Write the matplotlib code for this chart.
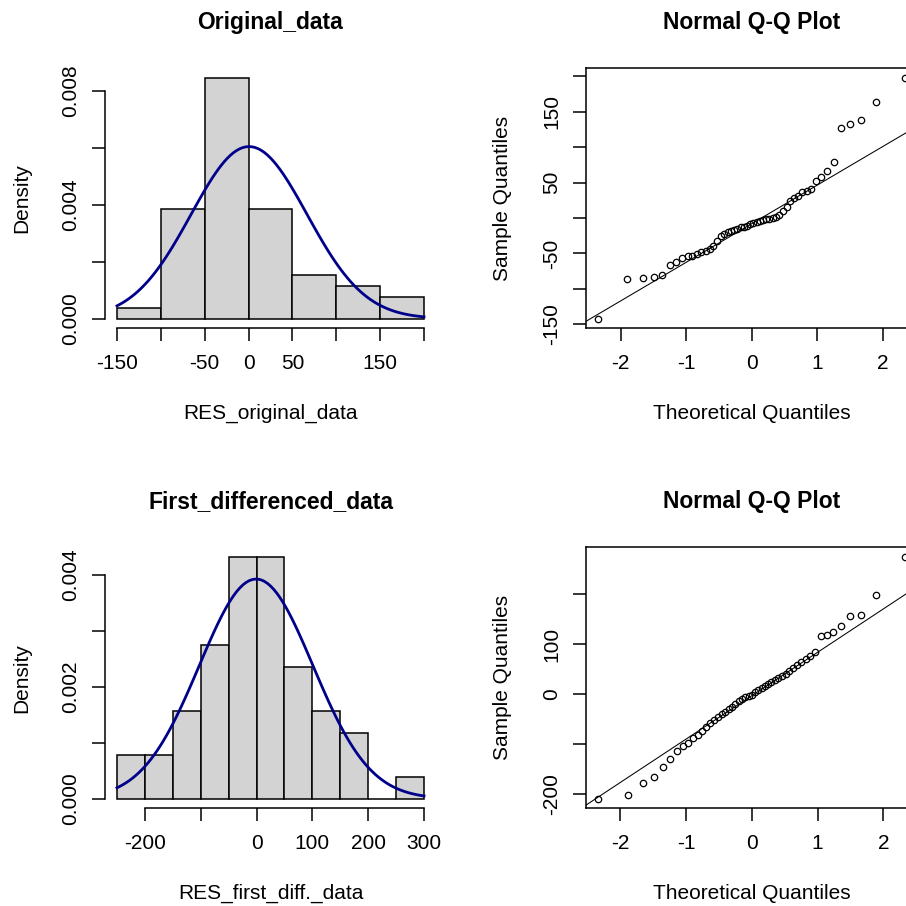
import numpy as np
import matplotlib
matplotlib.use("Agg")
import matplotlib.pyplot as plt
from statistics import NormalDist

plt.rcParams['font.family'] = ['Liberation Sans', 'DejaVu Sans']

# Model residuals (sorted), original series
res_original = np.array([
    -142, -86, -84, -83, -80, -66, -62, -57, -54, -53, -51,
    -48.5, -47, -44, -39, -32, -25, -22, -20, -19, -17, -16, -13.3,
    -12, -11, -8.5, -7, -5, -4, -3, -2, -1.5, -0.5,
    0.9, 4.7, 9.4, 15, 24.5, 27.8, 31.6, 36.3, 37.7, 41,
    52.8, 57.5, 67, 78.8, 126.5, 133.1, 137.8, 163.8, 198,
])

# Model residuals (sorted), first differenced series
res_first_diff = np.array([
    -210, -202, -178, -167, -147, -130, -115, -105,
    -98, -88, -83, -74, -66, -58, -52,
    -45, -40, -35, -30, -25, -19, -14, -9, -5, -3, -1,
    4, 8, 12, 16, 20, 24, 28, 33, 37, 41, 46,
    53, 58, 64, 70, 77, 84, 116.6, 118.6, 125, 136.6,
    156, 158, 199, 275,
])

breaks_original = [-150, -100, -50, 0, 50, 100, 150, 200]
breaks_first_diff = [-250, -200, -150, -100, -50, 0, 50, 100, 150, 200, 250, 300]

hist1_xticks = [-150, -100, -50, 0, 50, 100, 150, 200]
hist1_xlabels = ["-150", "", "-50", "0", "50", "", "150", ""]
hist1_yticks = [0, 0.002, 0.004, 0.006, 0.008]
hist1_ylabels = ["0.000", "", "0.004", "", "0.008"]

hist2_xticks = [-200, -100, 0, 100, 200, 300]
hist2_xlabels = ["-200", "", "0", "100", "200", "300"]
hist2_yticks = [0, 0.001, 0.002, 0.003, 0.004]
hist2_ylabels = ["0.000", "", "0.002", "", "0.004"]

qq_xticks = [-2, -1, 0, 1, 2]
qq_xlabels = ["-2", "-1", "0", "1", "2"]
qq1_yticks = [-150, -100, -50, 0, 50, 100, 150, 200]
qq1_ylabels = ["-150", "", "-50", "", "50", "", "150", ""]
qq2_yticks = [-200, -100, 0, 100, 200]
qq2_ylabels = ["-200", "", "0", "100", ""]

W = H = 906
fig = plt.figure(figsize=(W / 100, H / 100), dpi=100)

TICK_FS = 15
LABEL_FS = 15
TITLE_FS = 16.5
LW = 1.1


def frac_rect(x0, y0, x1, y1):
    return [x0 / W, 1 - y1 / H, (x1 - x0) / W, (y1 - y0) / H]


def style_ticks(ax, xticks, xlabels, yticks, ylabels):
    ax.set_xticks(xticks)
    ax.set_xticklabels(xlabels)
    ax.set_yticks(yticks)
    ax.set_yticklabels(ylabels, rotation=90, va='center')
    ax.tick_params(direction='out', length=9.2, width=LW, labelsize=TICK_FS, pad=9)
    ax.tick_params(axis='y', pad=8.5)


def hist_panel(ax, values, breaks, xticks, xlabels, yticks, ylabels):
    counts, _ = np.histogram(values, bins=breaks)
    ax.hist(values, bins=breaks, density=True, color='#D3D3D3',
            edgecolor='black', linewidth=LW)
    nd = NormalDist(values.mean(), values.std(ddof=1))
    xs = np.linspace(breaks[0], breaks[-1], 101)
    ax.plot(xs, [nd.pdf(v) for v in xs], color='#00008B', lw=2.0)
    span = breaks[-1] - breaks[0]
    ax.set_xlim(breaks[0] - 0.04 * span, breaks[-1] + 0.04 * span)
    top = (counts / (len(values) * np.diff(breaks))).max()
    ax.set_ylim(-0.04 * top, 1.04 * top)
    for s in ('top', 'right'):
        ax.spines[s].set_visible(False)
    ax.spines['left'].set_bounds(yticks[0], yticks[-1])
    ax.spines['bottom'].set_bounds(xticks[0], xticks[-1])
    for s in ('left', 'bottom'):
        ax.spines[s].set_linewidth(LW)
    style_ticks(ax, xticks, xlabels, yticks, ylabels)


def qq_panel(ax, values, yticks, ylabels):
    n = len(values)
    a = 0.5 if n > 10 else 3 / 8
    probs = (np.arange(1, n + 1) - a) / (n + 1 - 2 * a)
    theo = np.array([NormalDist().inv_cdf(p) for p in probs])
    samp = np.sort(values)
    ax.plot(theo, samp, 'o', mfc='none', mec='black', ms=4.6, mew=0.9)
    tspan = theo.max() - theo.min()
    sspan = samp.max() - samp.min()
    ax.set_xlim(theo.min() - 0.04 * tspan, theo.max() + 0.04 * tspan)
    ax.set_ylim(samp.min() - 0.04 * sspan, samp.max() + 0.04 * sspan)
    q1, q3 = np.percentile(samp, [25, 75])
    z1, z3 = NormalDist().inv_cdf(0.25), NormalDist().inv_cdf(0.75)
    slope = (q3 - q1) / (z3 - z1)
    intercept = q1 - slope * z1
    ax.axline((0, intercept), slope=slope, color='black', lw=0.75)
    for s in ax.spines.values():
        s.set_linewidth(LW)
    style_ticks(ax, qq_xticks, qq_xlabels, yticks, ylabels)


def annotate(box, title, xlabel, ylabel):
    x0, y0, x1, y1 = box
    cx = (x0 + x1) / 2
    cy = (y0 + y1) / 2
    fig.text(cx / W, 1 - (y0 - 46) / H, title, ha='center', va='center',
             fontsize=TITLE_FS, fontweight='bold')
    fig.text(cx / W, 1 - (y1 + 85) / H, xlabel, ha='center', va='center',
             fontsize=LABEL_FS)
    fig.text((x0 - 83) / W, 1 - cy / H, ylabel, ha='center', va='center',
             rotation=90, fontsize=LABEL_FS)


boxes = {
    'tl': (104.7, 68.0, 436.3, 328.3),
    'tr': (586.0, 68.0, 917.6, 328.3),
    'bl': (104.7, 547.4, 436.3, 808.4),
    'br': (586.0, 547.4, 917.6, 808.4),
}

ax = fig.add_axes(frac_rect(*boxes['tl']))
hist_panel(ax, res_original, breaks_original, hist1_xticks, hist1_xlabels,
           hist1_yticks, hist1_ylabels)
annotate(boxes['tl'], "Original_data", "RES_original_data", "Density")

ax = fig.add_axes(frac_rect(*boxes['tr']))
qq_panel(ax, res_original, qq1_yticks, qq1_ylabels)
annotate(boxes['tr'], "Normal Q-Q Plot", "Theoretical Quantiles", "Sample Quantiles")

ax = fig.add_axes(frac_rect(*boxes['bl']))
hist_panel(ax, res_first_diff, breaks_first_diff, hist2_xticks, hist2_xlabels,
           hist2_yticks, hist2_ylabels)
annotate(boxes['bl'], "First_differenced_data", "RES_first_diff._data", "Density")

ax = fig.add_axes(frac_rect(*boxes['br']))
qq_panel(ax, res_first_diff, qq2_yticks, qq2_ylabels)
annotate(boxes['br'], "Normal Q-Q Plot", "Theoretical Quantiles", "Sample Quantiles")

fig.savefig("out.png", dpi=100, facecolor='white')
